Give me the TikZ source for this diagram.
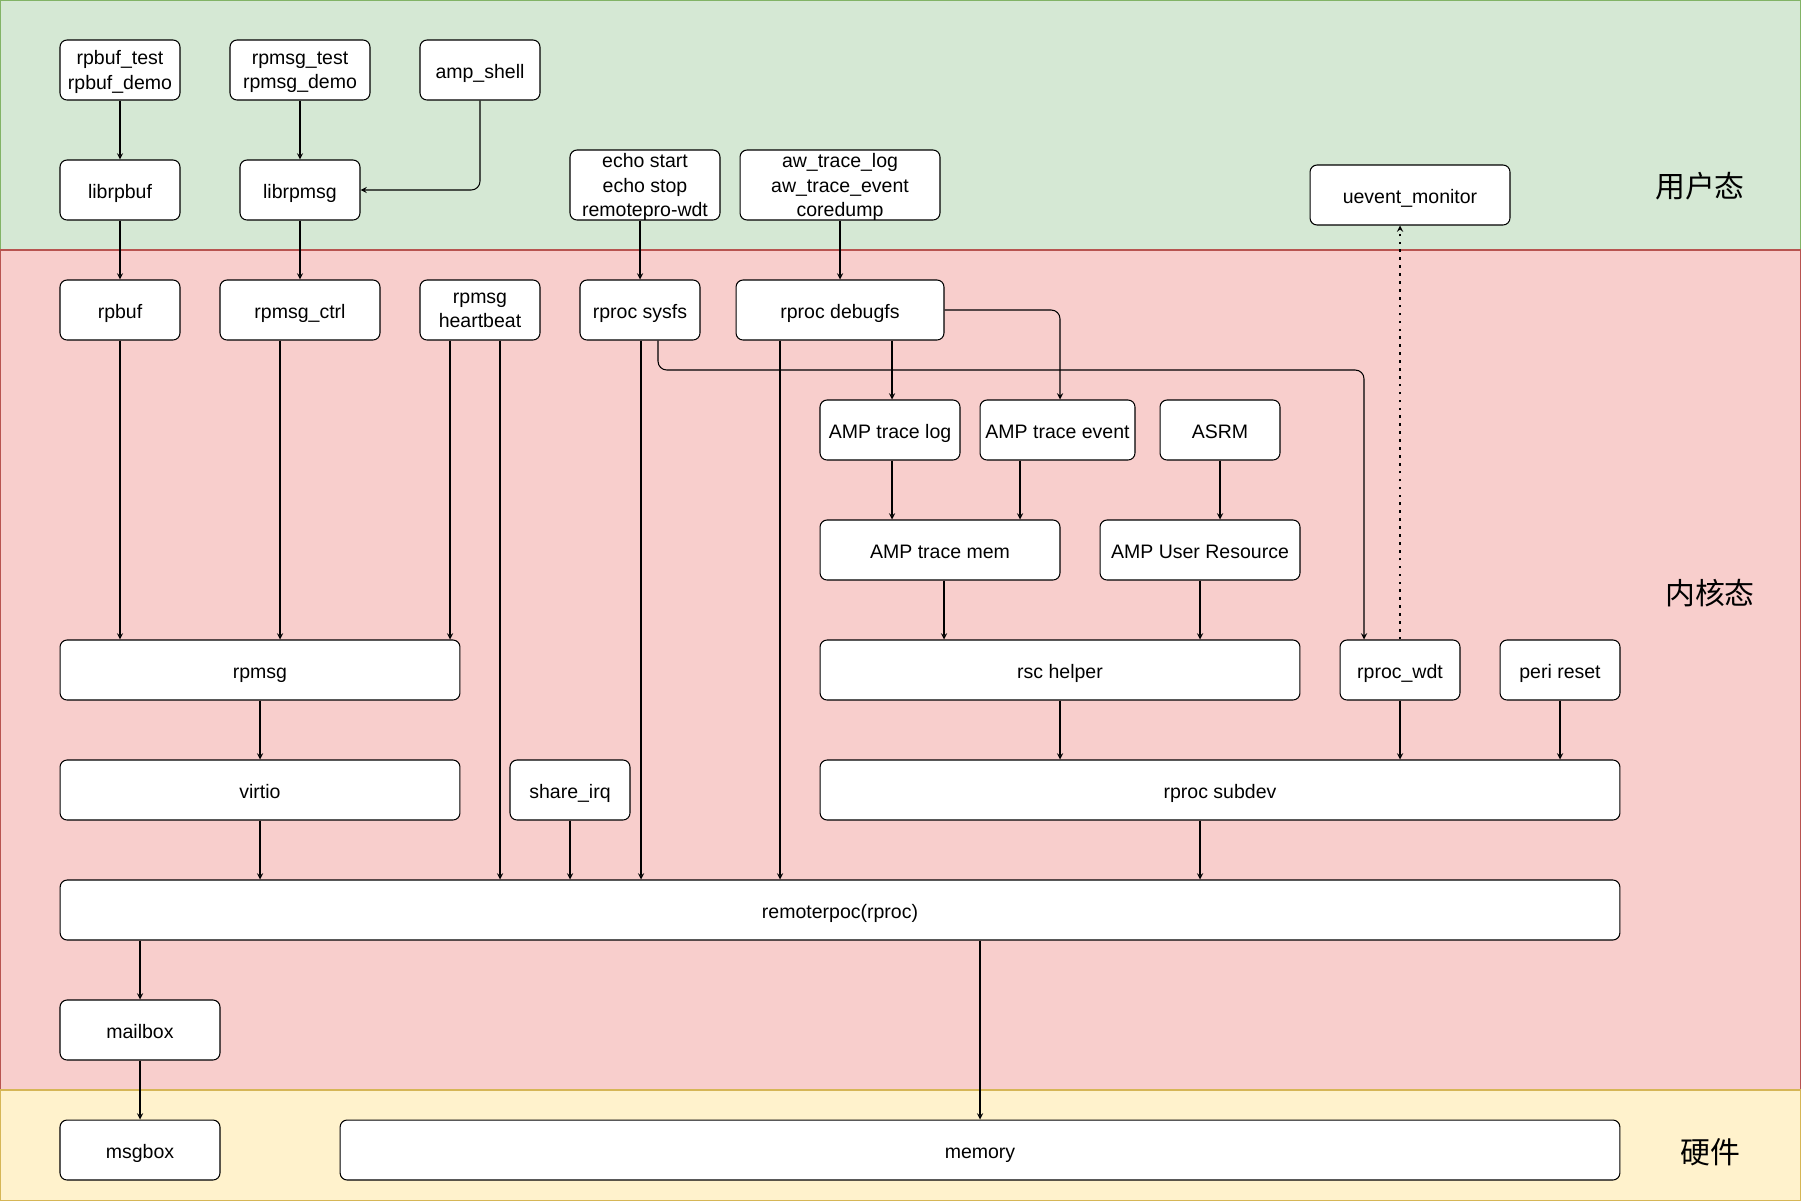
\documentclass[tikz,border=0pt]{standalone}
\usepackage{fontspec}
\setmainfont{Liberation Sans}
\newfontfamily\cjkfont{Noto Sans CJK SC}
\usepackage{xcolor}
\usetikzlibrary{shapes,arrows,positioning,calc}

\definecolor{userfill}{HTML}{D5E8D4}
\definecolor{userline}{HTML}{82B366}
\definecolor{kernfill}{HTML}{F8CECC}
\definecolor{kernline}{HTML}{B85450}
\definecolor{hwfill}{HTML}{FFF2CC}
\definecolor{hwline}{HTML}{D6B656}

\begin{document}
\begin{tikzpicture}[
    x=0.02cm, y=-0.02cm,
    box/.style={draw, rounded corners=4pt, fill=white, align=center, inner sep=1pt, minimum height=1.2cm, line width=0.6pt, text height=11pt, text depth=1pt, font=\fontsize{11.1}{13.8}\selectfont},
    multibox/.style={box, text height=, text depth=0pt, execute at begin node={\rule{0pt}{11pt}}},
    arrow/.style={->, >=stealth, line width=0.6pt},
    layertext/.style={font=\cjkfont\fontsize{17}{20}\selectfont}
]
    \useasboundingbox (0,0) rectangle (1801,1201);

    % layers
    \draw[fill=userfill, draw=userline, line width=0.8pt] (0.5,0.5) rectangle (1800.5,250);
    \draw[fill=kernfill, draw=kernline, line width=0.8pt] (0.5,250) rectangle (1800.5,1090);
    \draw[fill=hwfill, draw=hwline, line width=0.8pt] (0.5,1090) rectangle (1800.5,1200.5);
    \node[layertext] (lbluser) at (1700,186) {用户态};
    \node[layertext] (lblkern) at (1710,593) {内核态};
    \node[layertext] (lblhw) at (1710,1152) {硬件};

    % user space
    \node[multibox, minimum width=2.4cm] (rpbuftest) at (120,70) {rpbuf\_test\\rpbuf\_demo};
    \node[multibox, minimum width=2.8cm] (rpmsgtest) at (300,70) {rpmsg\_test\\rpmsg\_demo};
    \node[box, minimum width=2.4cm] (ampshell) at (480,70) {amp\_shell};
    \node[box, minimum width=2.4cm] (librpbuf) at (120,190) {librpbuf};
    \node[box, minimum width=2.4cm] (librpmsg) at (300,190) {librpmsg};
    \node[multibox, minimum width=3.0cm, minimum height=1.4cm] (echo) at (645,185) {echo start\\echo stop\\remotepro-wdt};
    \node[multibox, minimum width=4.0cm, minimum height=1.4cm] (awtrace) at (840,185) {aw\_trace\_log\\aw\_trace\_event\\coredump};
    \node[box, minimum width=4.0cm] (uevent) at (1410,195) {uevent\_monitor};

    % kernel
    \node[box, minimum width=2.4cm] (rpbuf) at (120,310) {rpbuf};
    \node[box, minimum width=3.2cm] (rpmsgctrl) at (300,310) {rpmsg\_ctrl};
    \node[multibox, minimum width=2.4cm] (heartbeat) at (480,310) {rpmsg\\heartbeat};
    \node[box, minimum width=2.4cm] (sysfs) at (640,310) {rproc sysfs};
    \node[box, minimum width=4.16cm] (debugfs) at (840,310) {rproc debugfs};
    \node[box, minimum width=2.8cm] (tracelog) at (890,430) {AMP trace log};
    \node[box, minimum width=3.1cm] (traceevent) at (1057.5,430) {AMP trace event};
    \node[box, minimum width=2.4cm] (asrm) at (1220,430) {ASRM};
    \node[box, minimum width=4.8cm] (tracemem) at (940,550) {AMP trace mem};
    \node[box, minimum width=4.0cm] (userres) at (1200,550) {AMP User Resource};
    \node[box, minimum width=8.0cm] (rpmsg) at (260,670) {rpmsg};
    \node[box, minimum width=9.6cm] (rschelper) at (1060,670) {rsc helper};
    \node[box, minimum width=2.4cm] (wdt) at (1400,670) {rproc\_wdt};
    \node[box, minimum width=2.4cm] (perireset) at (1560,670) {peri reset};
    \node[box, minimum width=8.0cm] (virtio) at (260,790) {virtio};
    \node[box, minimum width=2.4cm] (shareirq) at (570,790) {share\_irq};
    \node[box, minimum width=16.0cm] (subdev) at (1220,790) {rproc subdev};
    \node[box, minimum width=31.2cm] (remoteproc) at (840,910) {remoterpoc(rproc)};
    \node[box, minimum width=3.2cm] (mailbox) at (140,1030) {mailbox};

    % hardware
    \node[box, minimum width=3.2cm] (msgbox) at (140,1150) {msgbox};
    \node[box, minimum width=25.6cm] (memory) at (980,1150) {memory};

    % user space links
    \draw[arrow] (rpbuftest) -- (librpbuf);
    \draw[arrow] (rpmsgtest) -- (librpmsg);
    \draw[arrow, rounded corners=5pt] (ampshell) |- (librpmsg);
    \draw[arrow] (librpbuf) -- (rpbuf);
    \draw[arrow] (librpmsg) -- (rpmsgctrl);
    \draw[arrow] (echo.south -| sysfs) -- (sysfs);
    \draw[arrow] (awtrace) -- (debugfs);

    % debugfs / sysfs
    \draw[arrow, rounded corners=5pt] (debugfs.east) -| (traceevent.north -| 1060,0);
    \draw[arrow] (debugfs.south -| 892,0) -- (tracelog.north -| 892,0);
    \draw[arrow] (debugfs.south -| 780,0) -- (remoteproc.north -| 780,0);
    \draw[arrow] (sysfs.south -| 641,0) -- (remoteproc.north -| 641,0);
    \draw[arrow, rounded corners=5pt] (sysfs.south -| 658,0) |- (1364,370) -- (wdt.north -| 1364,0);
    \draw[arrow, dash pattern=on 1.5pt off 3pt] (wdt.north) -- (uevent.south -| wdt.north);

    % rpmsg side
    \draw[arrow] (rpbuf) -- (rpmsg.north -| rpbuf);
    \draw[arrow] (rpmsgctrl.south -| 280,0) -- (rpmsg.north -| 280,0);
    \draw[arrow] (heartbeat.south -| 450,0) -- (rpmsg.north -| 450,0);
    \draw[arrow] (heartbeat.south -| 500,0) -- (remoteproc.north -| 500,0);
    \draw[arrow] (rpmsg) -- (virtio);
    \draw[arrow] (virtio) -- (remoteproc.north -| virtio);
    \draw[arrow] (shareirq) -- (remoteproc.north -| shareirq);

    % trace side
    \draw[arrow] (tracelog.south -| 892,0) -- (tracemem.north -| 892,0);
    \draw[arrow] (traceevent.south -| 1020,0) -- (tracemem.north -| 1020,0);
    \draw[arrow] (asrm) -- (userres.north -| asrm);
    \draw[arrow] (tracemem.south -| 944,0) -- (rschelper.north -| 944,0);
    \draw[arrow] (userres) -- (rschelper.north -| userres);
    \draw[arrow] (rschelper) -- (subdev.north -| rschelper);
    \draw[arrow] (wdt) -- (subdev.north -| wdt);
    \draw[arrow] (perireset) -- (subdev.north -| perireset);
    \draw[arrow] (subdev.south -| 1200,0) -- (remoteproc.north -| 1200,0);

    % down to hardware
    \draw[arrow] (remoteproc.south -| mailbox) -- (mailbox);
    \draw[arrow] (mailbox) -- (msgbox);
    \draw[arrow] (remoteproc.south -| memory) -- (memory);
\end{tikzpicture}
\end{document}
